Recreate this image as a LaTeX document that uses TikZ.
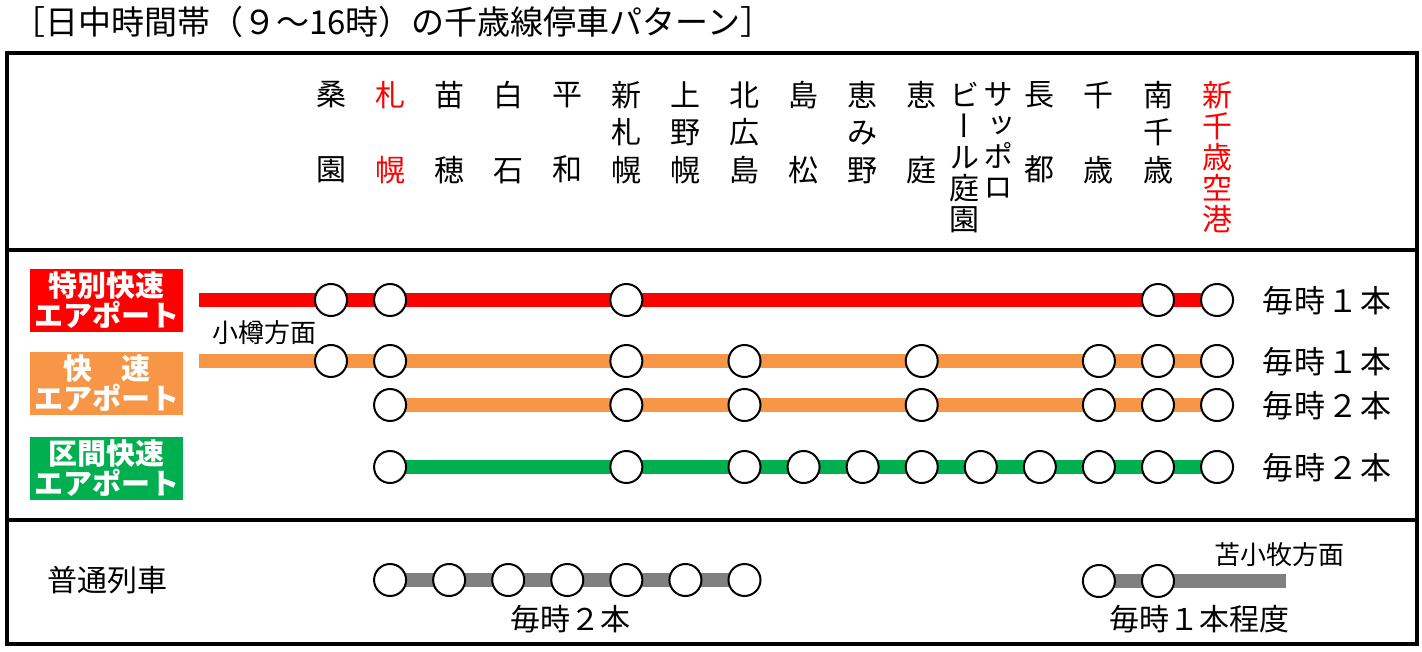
\documentclass[tikz,border=0pt]{standalone}
\usepackage{fontspec}
\setmainfont{Noto Sans CJK JP}
\newfontfamily\vertjp[RawFeature=+vert]{Noto Sans CJK JP}
\usetikzlibrary{backgrounds}
\definecolor{tkred}{RGB}{255,0,0}
\definecolor{tkorange}{RGB}{247,150,70}
\definecolor{tkgreen}{RGB}{0,176,80}
\definecolor{futsugray}{RGB}{128,128,128}

\begin{document}
\begin{tikzpicture}[x=0.5pt, y=-0.5pt,
  every node/.style={inner sep=0pt, outer sep=0pt},
  frame/.style={line width=2pt},
  stn/.style={font=\fontsize{15}{18.75}\selectfont, align=center},
  stnlong/.style={font=\fontsize{15}{15.5}\selectfont\vertjp, align=center},
  stop/.style={circle, draw=black, line width=1pt, fill=white, minimum size=16pt},
  svc/.style={line width=7pt, draw=#1},
  kind/.style={fill=#1, text=white, font=\fontsize{14.5}{13.5}\selectfont\bfseries,
               align=center, minimum width=76.5pt, minimum height=31.5pt},
  freq/.style={font=\fontsize{15.5}{18}\selectfont\addfontfeatures{LetterSpace=6}, anchor=west},
  dir/.style={font=\fontsize{13}{16}\selectfont}
]
  \useasboundingbox (0,0) rectangle (1422,652);

  % title and frame
  \node[anchor=west, font=\fontsize{16.5}{18}\selectfont] (title) at (12,22)
    {［日中時間帯（９～16時）の千歳線停車パターン］};
  \draw[frame] (7,53) rectangle (1417,644);
  \draw[frame] (7,250) -- (1417,250);
  \draw[frame] (7,520) -- (1417,520);

  % station names
  \foreach \i/\a/\b/\c/\col in {1/桑//園/black, 2/札//幌/tkred, 3/苗//穂/black,
      4/白//石/black, 5/平//和/black, 6/新/札/幌/black, 7/上/野/幌/black,
      8/北/広/島/black, 9/島//松/black, 10/恵/み/野/black, 11/恵//庭/black,
      13/長//都/black, 14/千//歳/black, 15/南/千/歳/black}
    \node[stn, text=\col] (name-\i) at ({331+(\i-1)*59.07},132.5) {\a\\\mbox{}\b\\\c};
  \node[stnlong] (name-12a) at (998,141) {サ\\ッ\\ポ\\ロ};
  \node[stnlong] (name-12b) at (964,157.5) {ビ\\ー\\ル\\庭\\園};
  \node[stnlong, text=tkred] (name-16) at (1217,157.5) {新\\千\\歳\\空\\港};

  % train kinds
  \node[kind=tkred] (kind-a) at (106.5,300) {特別快速\\エアポート};
  \node[kind=tkorange] (kind-b) at (106.5,383) {快　速\\エアポート};
  \node[kind=tkgreen] (kind-d) at (106.5,468) {区間快速\\エアポート};
  \node[font=\fontsize{15}{18}\selectfont, anchor=west] (kind-e) at (47,580) {普通列車};

  % stops
  \foreach \i in {1,2,6,15,16}
    \node[stop] (a-\i) at ({331+(\i-1)*59.07},300) {};
  \foreach \i in {1,2,6,8,11,14,15,16}
    \node[stop] (b-\i) at ({331+(\i-1)*59.07},361) {};
  \foreach \i in {2,6,8,11,14,15,16}
    \node[stop] (c-\i) at ({331+(\i-1)*59.07},405) {};
  \foreach \i in {2,6,8,9,10,11,12,13,14,15,16}
    \node[stop] (d-\i) at ({331+(\i-1)*59.07},467) {};
  \foreach \i in {2,3,4,5,6,7,8}
    \node[stop] (e-\i) at ({331+(\i-1)*59.07},580) {};
  \foreach \i in {14,15}
    \node[stop] (f-\i) at ({331+(\i-1)*59.07},581) {};

  \coordinate (a-start) at (199,300);
  \coordinate (b-start) at (199,361);
  \coordinate (f-end) at (1286,581);

  \begin{scope}[on background layer]
    \draw[svc=tkred] (a-start) -- (a-16);
    \draw[svc=tkorange] (b-start) -- (b-16);
    \draw[svc=tkorange] (c-2) -- (c-16);
    \draw[svc=tkgreen] (d-2) -- (d-16);
    \draw[svc=futsugray] (e-2) -- (e-8);
    \draw[svc=futsugray] (f-14) -- (f-end);
  \end{scope}

  % directions and frequencies
  \node[dir] (otaru) at (264,333) {小樽方面};
  \node[dir] (tomakomai) at (1279,555) {苫小牧方面};
  \node[freq] (freq-a) at (1262,301) {毎時１本};
  \node[freq] (freq-b) at (1262,362) {毎時１本};
  \node[freq] (freq-c) at (1262,406) {毎時２本};
  \node[freq] (freq-d) at (1262,468) {毎時２本};
  \node[font=\fontsize{15}{18}\selectfont] (freq-e) at (570,619) {毎時２本};
  \node[font=\fontsize{15}{18}\selectfont] (freq-f) at (1199,619) {毎時１本程度};
\end{tikzpicture}
\end{document}
